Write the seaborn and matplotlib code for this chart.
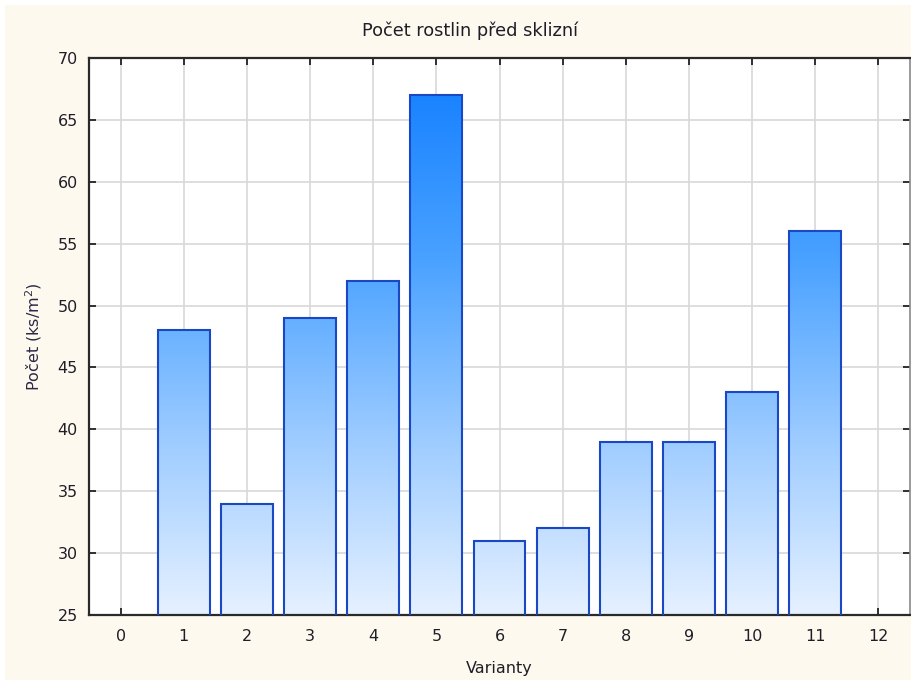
import numpy as np
import pandas as pd
import matplotlib
matplotlib.use("Agg")
import matplotlib.pyplot as plt
from matplotlib.colors import LinearSegmentedColormap
from matplotlib.patches import Rectangle
import seaborn as sns

# Data
varianty = [1, 2, 3, 4, 5, 6, 7, 8, 9, 10, 11]
pocet = [48, 34, 49, 52, 67, 31, 32, 39, 39, 43, 56]
x_ticks = list(range(0, 13))
y_ticks = [25, 30, 35, 40, 45, 50, 55, 60, 65, 70]

title = "Počet rostlin před sklizní"
xlabel = "Varianty"
ylabel = "Počet (ks/m$^2$)"

sns.set_theme(style="white")
plt.rcParams["font.family"] = ["DejaVu Sans"]

cream = "#fef9ee"
text_col = "#1e1e28"

fig = plt.figure(figsize=(9.11, 6.8), dpi=100, facecolor="white")
fig.patches.append(Rectangle((5 / 911, 0), 1, 1 - 5 / 680, transform=fig.transFigure,
                             facecolor=cream, edgecolor="none", zorder=-10))
ax = fig.add_axes([89 / 911, 1 - 615 / 680, (910 - 89) / 911, (615 - 58) / 680])
ax.set_facecolor("white")

df = pd.DataFrame({"Varianty": varianty, "Pocet": pocet})
sns.barplot(data=df, x="Varianty", y="Pocet", native_scale=True, width=0.82,
            facecolor="none", edgecolor="#1a48c4", linewidth=1.5, ax=ax, zorder=3)

# vertical gradient fill shared by all bars, clipped to each bar outline
ymin, ymax = 25, 70
cmap = LinearSegmentedColormap.from_list("blues", ["#e6f1ff", "#9ccbff", "#4aa2ff", "#1681ff"])
grad = np.linspace(0, 1, 256).reshape(-1, 1)
for bar in ax.patches:
    x0 = bar.get_x()
    w = bar.get_width()
    im = ax.imshow(grad, extent=(x0, x0 + w, ymin, 68), origin="lower", aspect="auto",
                   cmap=cmap, zorder=2, interpolation="bilinear")
    im.set_clip_path(bar)

ax.set_xlim(-0.5, 12.5)
ax.set_ylim(ymin, ymax)
ax.set_xticks(x_ticks)
ax.set_xticklabels([str(t) for t in x_ticks])
ax.set_yticks(y_ticks)

ax.grid(True, color="#d8d8d8", linewidth=1.2, zorder=0)
ax.set_axisbelow(True)

ax.tick_params(axis="both", which="both", direction="in", length=5, width=1.3,
               colors="#222222", labelcolor=text_col, labelsize=11.5,
               top=True, right=True, bottom=True, left=True)
ax.tick_params(axis="x", pad=10)
ax.tick_params(axis="y", pad=8)

for side in ["left", "bottom", "top"]:
    ax.spines[side].set_color("#2a2a2a")
    ax.spines[side].set_linewidth(1.6)
ax.spines["right"].set_color("#8a8a8a")
ax.spines["right"].set_linewidth(1.2)

ax.set_xlabel(xlabel, fontsize=11.5, color=text_col, labelpad=12)
ax.set_ylabel(ylabel, fontsize=11.5, color="#2a2a48", labelpad=10)
fig.text(470 / 911, 1 - 31 / 680, title, ha="center", va="center", fontsize=12.8, color=text_col)

fig.savefig("out.png", dpi=100, facecolor=fig.get_facecolor())
